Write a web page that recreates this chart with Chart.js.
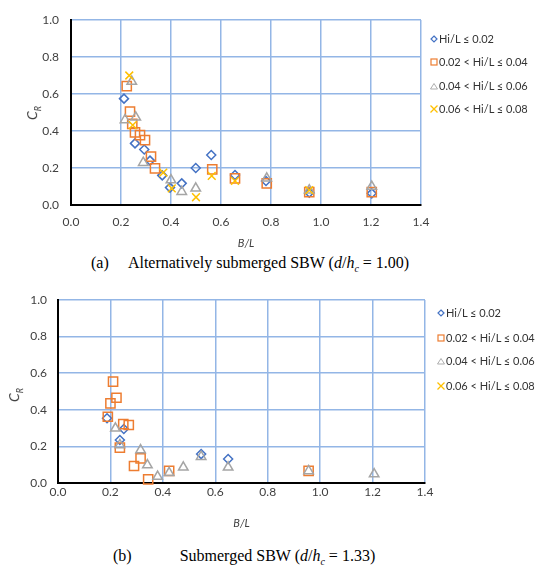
<!DOCTYPE html>
<html>
<head>
<meta charset="utf-8">
<script src="https://cdn.jsdelivr.net/npm/chart.js@4.4.1/dist/chart.umd.min.js"></script>
<style>
  body { margin: 0; background: #fff; width: 543px; height: 566px; position: relative; overflow: hidden; font-family: Lato, sans-serif; }
  canvas { position: absolute; left: 0; }
  .cap { position: absolute; font-family: "Liberation Serif", serif; font-size: 16px; line-height: 20px; color: #000; white-space: pre; }
  .ytitle { position: absolute; transform: translate(-50%, -50%) rotate(-90deg); font-size: 14px; color: #404040; white-space: nowrap; }
  .ytitle sub { font-size: 9px; font-style: italic; }
  .legend { position: absolute; font-size: 11px; color: #333; }
  .legend .row { position: absolute; left: 0; height: 14px; line-height: 14px; white-space: nowrap; transform: translateY(-50%); }
  .legend svg { vertical-align: middle; margin-right: 1px; margin-top: -2px; }
</style>
</head>
<body>
<canvas id="chartA" width="543" height="250" style="top:0"></canvas>
<canvas id="chartB" width="543" height="250" style="top:280px"></canvas>

<div class="ytitle" style="left:33px;top:113px"><i>C</i><sub>R</sub></div>
<div class="ytitle" style="left:15px;top:395px"><i>C</i><sub>R</sub></div>

<div class="legend" id="legendA" style="left:430px;top:0"></div>
<div class="legend" id="legendB" style="left:437px;top:0"></div>

<div class="cap" style="left:91px;top:253px">(a)     Alternatively submerged SBW (<i>d</i>/<i>h<sub style="font-size:10px">c</sub></i> = 1.00)</div>
<div class="cap" style="left:113px;top:546px">(b)            Submerged SBW (<i>d</i>/<i>h<sub style="font-size:10px">c</sub></i> = 1.33)</div>

<script>
// legend labels, one per series
const seriesLabels = ["Hi/L \u2264 0.02", "0.02 < Hi/L \u2264 0.04", "0.04 < Hi/L \u2264 0.06", "0.06 < Hi/L \u2264 0.08"];
const xTickValues = [0, 0.2, 0.4, 0.6, 0.8, 1.0, 1.2, 1.4];
const yTickValues = [0, 0.2, 0.4, 0.6, 0.8, 1.0];

// (a) alternatively submerged
const aDiamondX = [0.212, 0.256, 0.293, 0.316, 0.365, 0.396, 0.443, 0.499, 0.561, 0.656, 0.78, 0.953, 1.203];
const aDiamondY = [0.575, 0.333, 0.30, 0.24, 0.16, 0.094, 0.117, 0.20, 0.27, 0.162, 0.13, 0.067, 0.063];
const aSquareX = [0.223, 0.236, 0.245, 0.256, 0.276, 0.296, 0.32, 0.336, 0.565, 0.656, 0.783, 0.953, 1.203];
const aSquareY = [0.643, 0.505, 0.438, 0.393, 0.378, 0.351, 0.261, 0.198, 0.193, 0.144, 0.117, 0.07, 0.07];
const aTriangleX = [0.216, 0.243, 0.259, 0.289, 0.40, 0.443, 0.499, 0.783, 0.953, 1.203];
const aTriangleY = [0.46, 0.667, 0.474, 0.229, 0.135, 0.072, 0.09, 0.144, 0.08, 0.10];
const aCrossX = [0.233, 0.247, 0.369, 0.403, 0.50, 0.563, 0.656, 0.953];
const aCrossY = [0.70, 0.432, 0.175, 0.09, 0.042, 0.157, 0.13, 0.08];

// (b) submerged
const bDiamondX = [0.187, 0.251, 0.236, 0.546, 0.649];
const bDiamondY = [0.354, 0.295, 0.235, 0.158, 0.131];
const bSquareX = [0.21, 0.223, 0.20, 0.19, 0.249, 0.27, 0.236, 0.29, 0.315, 0.344, 0.424, 0.956];
const bSquareY = [0.554, 0.466, 0.435, 0.362, 0.322, 0.317, 0.193, 0.093, 0.135, 0.02, 0.066, 0.066];
const bTriangleX = [0.219, 0.236, 0.315, 0.341, 0.38, 0.424, 0.478, 0.546, 0.649, 0.956, 1.206];
const bTriangleY = [0.299, 0.208, 0.18, 0.098, 0.035, 0.056, 0.086, 0.144, 0.086, 0.066, 0.049];
const bCrossX = [];
const bCrossY = [];

const gridBlue = "#93b6e6";
const tickGrey = "#404040";
const markers = [
  { style: "rectRot", color: "#4472c4", radius: 4.5, order: 4 },
  { style: "rect", color: "#ed7d31", radius: 6.5, order: 3 },
  { style: "triangle", color: "#a5a5a5", radius: 5.5, order: 2 },
  { style: "crossRot", color: "#ffc000", radius: 5.5, order: 1 }
];

function points(xs, ys) {
  return xs.map((x, i) => ({ x: x, y: ys[i] }));
}

function makeDatasets(series) {
  return series.map((s, i) => ({
    label: seriesLabels[i],
    data: points(s[0], s[1]),
    pointStyle: markers[i].style,
    pointRadius: markers[i].radius,
    pointBorderColor: markers[i].color,
    pointBackgroundColor: "rgba(0,0,0,0)",
    pointBorderWidth: 1.5,
    showLine: false,
    order: markers[i].order,
    clip: false
  }));
}

function makeOptions(cfg) {
  return {
    responsive: false,
    animation: false,
    events: [],
    layout: { padding: { left: 0, right: cfg.right, top: 20, bottom: 0 } },
    plugins: { legend: { display: false }, tooltip: { enabled: false } },
    scales: {
      x: {
        type: "linear", min: 0, max: 1.4,
        afterBuildTicks: s => { s.ticks = xTickValues.map(v => ({ value: v })); },
        afterFit: s => { s.height = cfg.xh; },
        grid: { color: gridBlue, lineWidth: 1.5, drawTicks: false },
        border: { color: "#000", width: 2 },
        ticks: { padding: cfg.xpad, autoSkip: false, maxRotation: 0, color: tickGrey,
                 font: { family: "Lato", size: 12 }, callback: v => Number(v).toFixed(1) },
        title: { display: true, text: "B/L", color: tickGrey, padding: 0,
                 font: { family: "Lato", size: 11, style: "italic", lineHeight: 1.2 } }
      },
      y: {
        type: "linear", min: 0, max: 1,
        afterBuildTicks: s => { s.ticks = yTickValues.map(v => ({ value: v })); },
        afterFit: s => { s.width = cfg.yw; },
        grid: { color: gridBlue, lineWidth: 1.5, drawTicks: false },
        border: { color: "#000", width: 2 },
        ticks: { padding: cfg.ypad, color: tickGrey, font: { family: "Lato", size: 12 },
                 callback: v => Number(v).toFixed(1) }
      }
    }
  };
}

new Chart(document.getElementById("chartA"), {
  type: "scatter",
  data: { datasets: makeDatasets([[aDiamondX, aDiamondY], [aSquareX, aSquareY], [aTriangleX, aTriangleY], [aCrossX, aCrossY]]) },
  options: makeOptions({ right: 122, yw: 71, xh: 45, xpad: 10, ypad: 12 })
});

new Chart(document.getElementById("chartB"), {
  type: "scatter",
  data: { datasets: makeDatasets([[bDiamondX, bDiamondY], [bSquareX, bSquareY], [bTriangleX, bTriangleY], [bCrossX, bCrossY]]) },
  options: makeOptions({ right: 118, yw: 58, xh: 47, xpad: 2, ypad: 11 })
});

// small svg markers for the html legends
function markerSvg(i) {
  const c = markers[i].color;
  const shapes = [
    `<polygon points="4,1 7,4 4,7 1,4" fill="none" stroke="${c}" stroke-width="1.2"/>`,
    `<rect x="1" y="1" width="6" height="6" fill="none" stroke="${c}" stroke-width="1.2"/>`,
    `<polygon points="4,1.5 7.5,7 0.5,7" fill="none" stroke="${c}" stroke-width="0.9"/>`,
    `<path d="M0.5,0.5 L7.5,7.5 M7.5,0.5 L0.5,7.5" stroke="${c}" stroke-width="1.3"/>`
  ];
  return `<svg width="8" height="8" viewBox="0 0 8 8">${shapes[i]}</svg>`;
}

function buildLegend(id, rowYs) {
  const el = document.getElementById(id);
  el.innerHTML = seriesLabels.map((t, i) =>
    `<div class="row" style="top:${rowYs[i]}px">${markerSvg(i)}${t}</div>`).join("");
}

buildLegend("legendA", [39, 62, 86, 109]);
buildLegend("legendB", [313, 338, 361, 386]);
</script>
</body>
</html>
